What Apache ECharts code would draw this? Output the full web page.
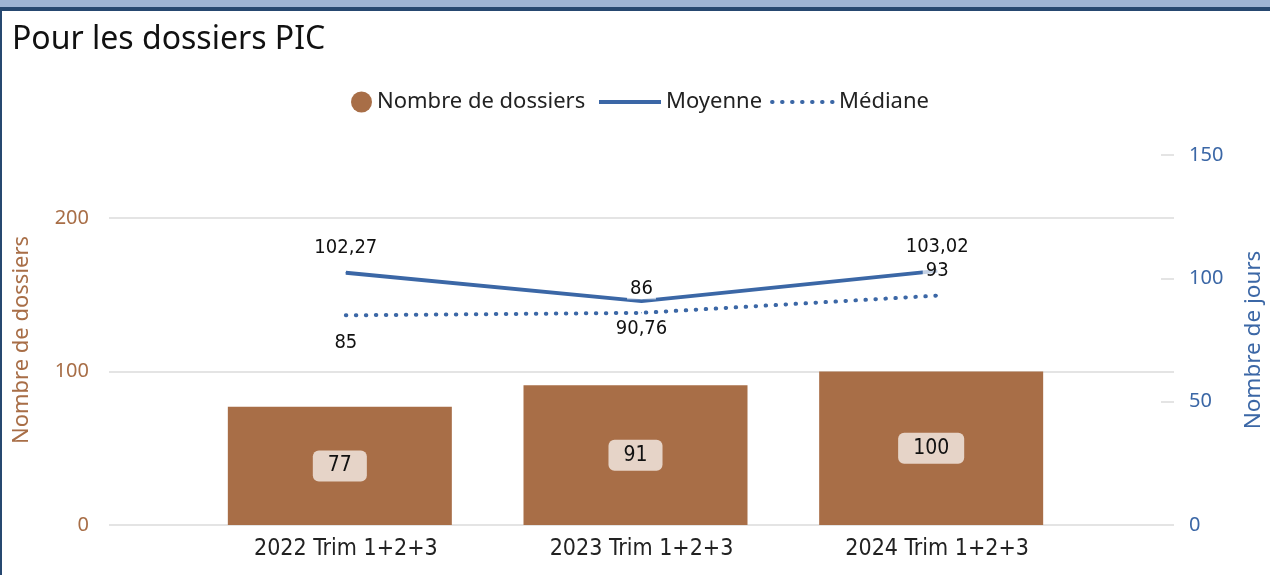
<!DOCTYPE html>
<html>
<head>
<meta charset="utf-8">
<script src="https://cdn.jsdelivr.net/npm/echarts@6/dist/echarts.min.js"></script>
<style>
    body{ margin:0; background:#fff; }
    #chart{ position:absolute; left:0; top:0; width:1270px; height:575px; }
    #bandTop{ position:absolute; left:0; top:0; width:1270px; height:7px; background:#9db4d4; }
    #lineTop{ position:absolute; left:0; top:7px; width:1270px; height:4px; background:#264870; }
    #lineLeft{ position:absolute; left:0; top:7px; width:2px; height:568px; background:#264870; }
</style>
</head>
<body>
<div id="chart"></div>
<div id="bandTop"></div>
<div id="lineTop"></div>
<div id="lineLeft"></div>
<script>
//数据
let categories = ["2022 Trim 1+2+3", "2023 Trim 1+2+3", "2024 Trim 1+2+3"];
let dossiers = [77, 91, 100];
let moyenne = [102.27, 90.76, 103.02];
let moyenneLabels = ["102,27", "90,76", "103,02"];
let mediane = [85, 86, 93];
let medianeLabels = ["85", "86", "93"];
let leftTicks = [0, 100, 200];
let rightTicks = [0, 50, 100, 150];

let brown = "#a86e47";
let blue = "#3b67a6";
let narrow = "'DejaVu Sans Condensed', Roboto";

function renderChart(){
    let chart = echarts.init(document.getElementById("chart"));
    let moyPos = ["top", "bottom", "top"];
    let medPos = ["bottom", "top", "top"];
    let lineLabel = {
        show: true,
        distance: 13,
        color: "#111",
        fontSize: 20,
        fontFamily: narrow,
        backgroundColor: "rgba(255,255,255,0.7)",
        padding: [1, 3]
    };
    function labelItem(pos){
        return { position: pos, distance: pos == "bottom" ? 16 : 13 };
    }
    let opts = {
        animation: false,
        title: {
            text: "Pour les dossiers PIC",
            left: 7,
            top: 19,
            textStyle: { fontSize: 32, fontWeight: "normal", color: "#111", fontFamily: "Noto Sans" }
        },
        legend: [{
            data: ["Nombre de dossiers"],
            left: 346,
            top: 86,
            itemWidth: 21,
            itemHeight: 21,
            icon: "circle",
            textStyle: { fontSize: 22, color: "#222", fontFamily: "Noto Sans" }
        }, {
            data: ["Moyenne", "Médiane"],
            left: 592,
            top: 86,
            itemWidth: 62,
            itemHeight: 21,
            itemGap: 8,
            itemStyle: { opacity: 0 },
            lineStyle: { width: 4 },
            textStyle: { fontSize: 22, color: "#222", fontFamily: "Noto Sans" }
        }],
        grid: [
            { left: 109, right: 96, top: 155, bottom: 50, outerBoundsMode: "none" },
            { left: 192, right: 191, top: 155, bottom: 50, outerBoundsMode: "none" },
            { left: 198, right: 185, top: 155, bottom: 50, outerBoundsMode: "none" }
        ],
        xAxis: [{
            gridIndex: 0,
            type: "value",
            min: 0,
            max: 1,
            show: false
        }, {
            gridIndex: 1,
            type: "category",
            data: categories,
            show: false
        }, {
            gridIndex: 2,
            type: "category",
            data: categories,
            axisLine: { show: false },
            axisTick: { show: false },
            axisLabel: { margin: 13, fontSize: 23, color: "#222", fontFamily: narrow }
        }],
        yAxis: [{
            gridIndex: 0,
            type: "value",
            position: "left",
            min: 0,
            max: 241,
            interval: 100,
            name: "Nombre de dossiers",
            nameLocation: "middle",
            nameRotate: 90,
            nameGap: 76,
            nameTextStyle: { fontSize: 22, color: brown, fontFamily: "Noto Sans" },
            axisLine: { show: false },
            axisTick: { show: false },
            axisLabel: {
                margin: 20,
                fontSize: 20,
                color: brown,
                fontFamily: "Noto Sans",
                formatter: function(v){ return leftTicks.indexOf(v) >= 0 ? String(v) : ""; }
            },
            splitLine: { lineStyle: { color: ["#e4e4e4", "#e4e4e4", "#e4e4e4", "rgba(0,0,0,0)"], width: 2 } }
        }, {
            gridIndex: 0,
            type: "value",
            position: "right",
            min: 0,
            max: 150,
            interval: 50,
            name: "Nombre de jours",
            nameLocation: "middle",
            nameRotate: 90,
            nameGap: 68,
            nameTextStyle: { fontSize: 22.5, color: blue, fontFamily: "Noto Sans" },
            axisLine: { show: false },
            axisTick: { show: true, inside: true, length: 13, lineStyle: { color: "#e4e4e4", width: 2 } },
            axisLabel: {
                margin: 15,
                fontSize: 20,
                color: blue,
                fontFamily: "Noto Sans",
                formatter: function(v){ return rightTicks.indexOf(v) >= 0 ? String(v) : ""; }
            },
            splitLine: { show: false }
        }, {
            gridIndex: 1,
            type: "value",
            min: 0,
            max: 241,
            show: false
        }, {
            gridIndex: 2,
            type: "value",
            min: 0,
            max: 150,
            show: false
        }],
        series: [{
            name: "Nombre de dossiers",
            type: "bar",
            xAxisIndex: 1,
            yAxisIndex: 2,
            barWidth: 224,
            itemStyle: { color: brown },
            label: {
                show: true,
                position: "inside",
                color: "#111",
                fontSize: 21,
                fontFamily: narrow,
                backgroundColor: "#e6d4c8",
                borderRadius: 6,
                padding: [5, 15]
            },
            data: dossiers
        }, {
            name: "Moyenne",
            type: "line",
            xAxisIndex: 2,
            yAxisIndex: 3,
            symbol: "circle",
            symbolSize: 1,
            itemStyle: { color: blue },
            lineStyle: { color: blue, width: 4 },
            label: Object.assign({}, lineLabel, {
                formatter: function(p){ return moyenneLabels[p.dataIndex]; }
            }),
            data: moyenne.map(function(v, i){ return { value: v, label: labelItem(moyPos[i]) }; }),
            z: 3
        }, {
            name: "Médiane",
            type: "line",
            xAxisIndex: 2,
            yAxisIndex: 3,
            symbol: "circle",
            symbolSize: 1,
            itemStyle: { color: blue },
            lineStyle: { color: blue, width: 4, type: [0.5, 9.5], cap: "round" },
            label: Object.assign({}, lineLabel, {
                formatter: function(p){ return medianeLabels[p.dataIndex]; }
            }),
            data: mediane.map(function(v, i){ return { value: v, label: labelItem(medPos[i]) }; }),
            z: 4
        }]
    };
    chart.setOption(opts);
}
renderChart();
</script>
</body>
</html>
